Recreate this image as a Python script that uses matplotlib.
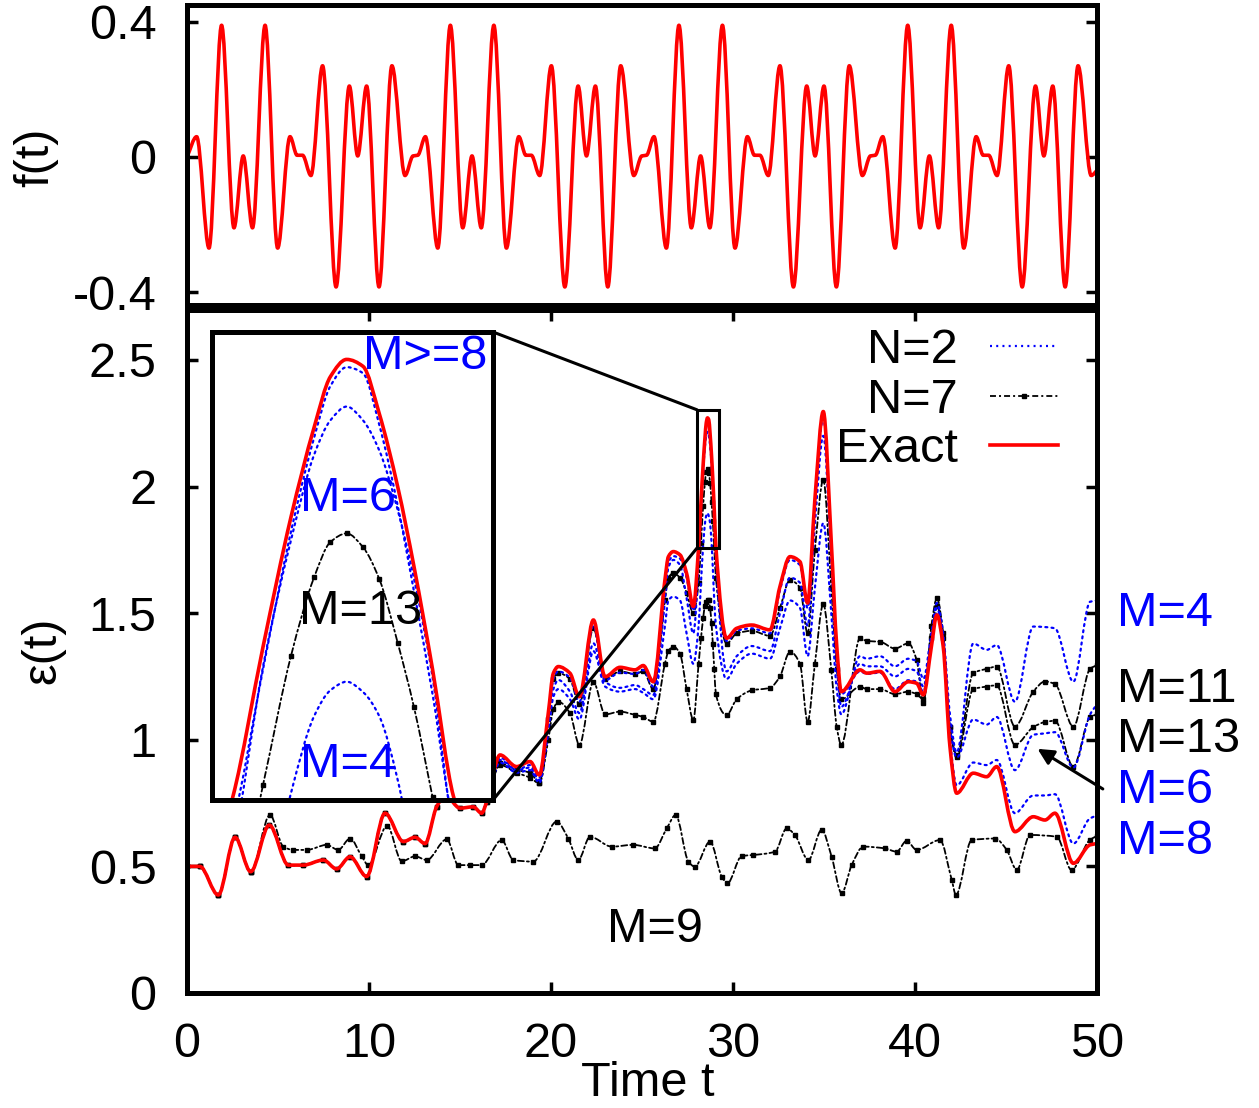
import numpy as np
import matplotlib.pyplot as plt
from matplotlib.patches import Rectangle, ConnectionPatch, PathPatch
from matplotlib.path import Path
from matplotlib.lines import Line2D

plt.rcParams['font.family'] = ['Liberation Sans', 'DejaVu Sans']

# ---- top panel: driving field f(t), extrema ----
ft_t = [0.00, 0.53, 1.21, 1.90, 2.58, 3.09, 3.60, 4.29, 4.98, 5.66, 6.05, 6.35, 6.81, 7.45, 8.19, 8.92,
        9.38, 9.87, 10.55, 11.26, 11.98, 12.42, 12.68,
        13.10, 13.78, 14.47, 15.15, 15.66, 16.17, 16.86, 17.55, 18.23, 18.62, 18.92, 19.38, 20.02, 20.76,
        21.49, 21.95, 22.44, 23.12, 23.83, 24.55, 24.99, 25.25,
        25.66, 26.34, 27.03, 27.71, 28.22, 28.73, 29.42, 30.11, 30.79, 31.18, 31.48, 31.94, 32.58, 33.32,
        34.05, 34.51, 35.00, 35.68, 36.39, 37.11, 37.55, 37.82,
        38.23, 38.91, 39.60, 40.28, 40.79, 41.30, 41.99, 42.68, 43.36, 43.75, 44.05, 44.51, 45.15, 45.89,
        46.62, 47.08, 47.57, 48.25, 48.96, 49.68, 50.00]
ft_v = [0.0, 0.06, -0.27, 0.39, -0.21, 0.003, -0.21, 0.39, -0.27, 0.06, 0.005, 0.005, -0.055, 0.27, -0.385, 0.21,
        0.003, 0.21, -0.385, 0.27, -0.055, 0.003, 0.005,
        0.06, -0.27, 0.39, -0.21, 0.003, -0.21, 0.39, -0.27, 0.06, 0.005, 0.005, -0.055, 0.27, -0.385,
        0.21, 0.003, 0.21, -0.385, 0.27, -0.055, 0.003, 0.005,
        0.06, -0.27, 0.39, -0.21, 0.003, -0.21, 0.39, -0.27, 0.06, 0.005, 0.005, -0.055, 0.27, -0.385,
        0.21, 0.003, 0.21, -0.385, 0.27, -0.055, 0.003, 0.005,
        0.06, -0.27, 0.39, -0.21, 0.003, -0.21, 0.39, -0.27, 0.06, 0.005, 0.005, -0.055, 0.27, -0.385,
        0.21, 0.003, 0.21, -0.385, 0.27, -0.055, -0.04]

# ---- bottom panel: epsilon(t) ----
t_grid = [0.0, 0.7, 1.72, 2.64, 3.5, 4.52, 5.57, 6.39, 7.49, 8.22, 8.96, 9.87, 10.88, 11.89, 12.53, 13.08,
          13.72, 14.2, 15.0, 15.73, 16.19, 16.47,
          17.2, 18.11, 18.85, 19.36, 19.85, 20.13, 20.4, 21.04, 21.56, 22.33, 22.97, 23.79, 24.62, 25.07,
          25.62, 26.26, 26.45, 26.72, 27.09, 27.45, 27.82,
          28.11, 28.24, 28.36, 28.46, 28.53, 28.60, 28.67, 28.74, 28.82, 28.89, 28.97, 29.06,
          29.65, 30.2, 31.03, 32.03, 32.58, 33.13, 33.68, 34.1, 34.5, 34.96, 35.4, 35.7, 35.95,
          36.98, 37.35, 38.08, 38.9, 39.63, 40.09, 40.46, 40.9, 41.2, 41.55, 41.92,
          42.29, 43.2, 43.94, 44.49, 45.49, 46.5, 47.14, 47.69, 48.7, 49.62, 50.0]

# all truncations coincide with the exact curve at early times
eps_early = [0.50, 0.50, 0.387, 0.615, 0.479, 0.663, 0.505, 0.505, 0.525, 0.49, 0.538, 0.46, 0.71, 0.598,
             0.615, 0.59, 0.736, 0.78, 0.73, 0.735, 0.71, 0.756]

eps_exact = eps_early + [
    0.94, 0.894, 0.914, 0.861, 1.105, 1.263, 1.289, 1.263, 1.17, 1.473, 1.249, 1.286, 1.276, 1.293, 1.229,
    1.631, 1.723, 1.743, 1.73, 1.657, 1.526,
    1.761, 1.936, 2.087, 2.192, 2.251, 2.271, 2.263, 2.208, 2.122, 2.029, 1.909, 1.761,
    1.401, 1.44, 1.453, 1.434, 1.605, 1.723, 1.703, 1.54, 1.95, 2.296, 1.78, 1.37, 1.19,
    1.276, 1.263, 1.27, 1.19, 1.229, 1.223, 1.177, 1.368, 1.493, 1.368, 0.973,
    0.789, 0.868, 0.854, 0.894, 0.637, 0.696, 0.683, 0.71, 0.512, 0.585, 0.59]

eps_n2_m8 = eps_early + [
    0.93, 0.88, 0.90, 0.85, 1.09, 1.24, 1.27, 1.245, 1.15, 1.45, 1.235, 1.265, 1.26, 1.275, 1.21,
    1.61, 1.70, 1.725, 1.715, 1.64, 1.51,
    1.73, 1.91, 2.07, 2.18, 2.24, 2.262, 2.255, 2.195, 2.10, 2.00, 1.88, 1.73,
    1.39, 1.43, 1.44, 1.42, 1.59, 1.71, 1.69, 1.52, 1.93, 2.27, 1.76, 1.36, 1.18,
    1.27, 1.26, 1.265, 1.20, 1.235, 1.23, 1.19, 1.38, 1.50, 1.38, 1.00,
    0.82, 0.91, 0.90, 0.92, 0.71, 0.78, 0.78, 0.785, 0.59, 0.69, 0.70]

eps_n2_m6 = eps_early + [
    0.92, 0.88, 0.89, 0.84, 1.05, 1.20, 1.236, 1.19, 1.105, 1.381, 1.229, 1.205, 1.216, 1.20, 1.177,
    1.55, 1.68, 1.71, 1.69, 1.56, 1.42,
    1.70, 1.913, 2.06, 2.16, 2.20, 2.216, 2.20, 2.165, 2.095, 2.015, 1.90, 1.72,
    1.27, 1.33, 1.37, 1.35, 1.50, 1.64, 1.62, 1.45, 1.85, 2.20, 1.70, 1.30, 1.13,
    1.30, 1.29, 1.29, 1.25, 1.28, 1.27, 1.21, 1.40, 1.52, 1.40, 1.05,
    0.93, 1.08, 1.06, 1.09, 0.88, 1.02, 1.025, 1.03, 0.89, 1.10, 1.14]

eps_n2_m4 = eps_early + [
    0.91, 0.87, 0.88, 0.83, 1.03, 1.17, 1.20, 1.16, 1.08, 1.35, 1.21, 1.19, 1.20, 1.185, 1.16,
    1.45, 1.55, 1.565, 1.55, 1.42, 1.30,
    1.45, 1.62, 1.765, 1.855, 1.885, 1.895, 1.883, 1.855, 1.78, 1.68, 1.55, 1.45,
    1.24, 1.30, 1.34, 1.32, 1.44, 1.55, 1.52, 1.33, 1.60, 1.855, 1.50, 1.20, 1.10,
    1.33, 1.32, 1.33, 1.29, 1.32, 1.31, 1.24, 1.42, 1.54, 1.42, 1.10,
    0.95, 1.38, 1.355, 1.374, 1.15, 1.447, 1.445, 1.44, 1.229, 1.545, 1.55]

eps_n7_m13 = eps_early + [
    0.907, 0.88, 0.87, 0.83, 1.08, 1.24, 1.263, 1.24, 1.14, 1.44, 1.24, 1.27, 1.26, 1.27, 1.20,
    1.55, 1.64, 1.657, 1.64, 1.58, 1.50,
    1.62, 1.775, 1.925, 2.017, 2.058, 2.068, 2.052, 2.015, 1.94, 1.865, 1.76, 1.64,
    1.38, 1.42, 1.43, 1.41, 1.52, 1.63, 1.60, 1.42, 1.75, 2.026, 1.60, 1.28, 1.16,
    1.21, 1.20, 1.20, 1.18, 1.19, 1.18, 1.16, 1.40, 1.53, 1.40, 1.05,
    0.93, 1.20, 1.21, 1.215, 0.98, 1.05, 1.07, 1.075, 0.894, 1.09, 1.10]

eps_n7_m11 = eps_early + [
    0.90, 0.87, 0.85, 0.828, 1.00, 1.12, 1.15, 1.105, 0.98, 1.229, 1.10, 1.111, 1.098, 1.09, 1.071,
    1.30, 1.35, 1.368, 1.34, 1.20, 1.078,
    1.30, 1.40, 1.48, 1.53, 1.545, 1.552, 1.55, 1.52, 1.46, 1.38, 1.28, 1.18,
    1.098, 1.16, 1.195, 1.205, 1.25, 1.348, 1.30, 1.071, 1.30, 1.535, 1.276, 1.05, 0.98,
    1.401, 1.39, 1.387, 1.36, 1.381, 1.315, 1.144, 1.45, 1.559, 1.42, 1.05,
    0.94, 1.263, 1.28, 1.289, 1.052, 1.19, 1.23, 1.22, 1.052, 1.28, 1.295]

t_m9 = [0, 0.7, 1.72, 2.64, 3.5, 4.56, 5.29, 5.84, 6.58, 7.68, 8.31, 8.96, 9.6, 9.96, 11.0, 11.8, 12.53,
        13.17, 14.27, 14.91, 15.55, 16.19, 17.29, 17.93, 19.03, 20.31, 20.95, 21.5, 22.14, 23.34, 24.52,
        25.7, 26.36, 26.85, 27.55, 27.9, 28.74, 29.38, 29.69, 30.48, 31.12, 32.31, 32.95, 33.4, 34.14,
        34.87, 35.42, 35.97, 36.52, 37.16, 38.35, 38.99, 39.54, 40.09, 41.37, 42.02, 42.25, 43.11, 44.4,
        45.04, 45.59, 46.32, 47.79, 48.6, 49.6, 50.0]
eps_n7_m9 = [0.50, 0.50, 0.387, 0.615, 0.479, 0.703, 0.578, 0.565, 0.565, 0.585, 0.565, 0.61, 0.54, 0.505,
             0.66, 0.52, 0.54, 0.525, 0.607, 0.505, 0.505, 0.505, 0.604, 0.525, 0.519, 0.677, 0.61, 0.525,
             0.617, 0.578, 0.585, 0.571, 0.65, 0.703, 0.519, 0.499, 0.598, 0.46, 0.433, 0.541, 0.545,
             0.558, 0.65, 0.624, 0.525, 0.644, 0.538, 0.394, 0.505, 0.578, 0.571, 0.558, 0.601, 0.565,
             0.604, 0.446, 0.387, 0.604, 0.61, 0.565, 0.486, 0.624, 0.617, 0.486, 0.604, 0.62]

FS = 35
RED, BLUE = '#ff0000', '#0000ff'
ex_style = dict(color=RED, lw=2.6)
n2_style = dict(color=BLUE, lw=1.6, ls=(0, (0.9, 1.9)))
n7_style = dict(color='black', lw=1.3, ls=(0, (3.3, 1.7, 1.1, 1.7)))
n7_mark = dict(color='black', ls='none', marker='s', ms=3.2)


def smooth_curve(ax, t, v, z, **kw):
    # cubic Bezier path through the read points, monotone (Fritsch-Carlson) tangents
    t = np.asarray(t, float)
    v = np.asarray(v, float)
    h = np.diff(t)
    d = np.diff(v) / h
    m = np.zeros_like(v)
    m[0], m[-1] = d[0], d[-1]
    for k in range(1, len(v) - 1):
        if d[k - 1] * d[k] > 0:
            w1, w2 = 2 * h[k] + h[k - 1], h[k] + 2 * h[k - 1]
            m[k] = (w1 + w2) / (w1 / d[k - 1] + w2 / d[k])
    verts = [(t[0], v[0])]
    codes = [Path.MOVETO]
    for k in range(len(h)):
        verts += [(t[k] + h[k] / 3, v[k] + m[k] * h[k] / 3),
                  (t[k + 1] - h[k] / 3, v[k + 1] - m[k + 1] * h[k] / 3),
                  (t[k + 1], v[k + 1])]
        codes += [Path.CURVE4] * 3
    patch = PathPatch(Path(verts, codes), fill=False, ec=kw['color'], lw=kw['lw'], ls=kw.get('ls', '-'),
                      capstyle='round', joinstyle='round', zorder=z)
    ax.add_patch(patch)


def draw_eps(ax):
    smooth_curve(ax, t_m9, eps_n7_m9, 2.0, **n7_style)
    smooth_curve(ax, t_grid, eps_n7_m11, 2.1, **n7_style)
    smooth_curve(ax, t_grid, eps_n7_m13, 2.2, **n7_style)
    for tt, vv in ((t_m9, eps_n7_m9), (t_grid, eps_n7_m11), (t_grid, eps_n7_m13)):
        ax.plot(tt, vv, zorder=2.3, **n7_mark)
    smooth_curve(ax, t_grid, eps_n2_m4, 2.4, **n2_style)
    smooth_curve(ax, t_grid, eps_n2_m6, 2.5, **n2_style)
    smooth_curve(ax, t_grid, eps_n2_m8, 2.6, **n2_style)
    smooth_curve(ax, t_grid, eps_exact, 2.7, **ex_style)


W, H = 1259, 1108
fig = plt.figure(figsize=(W / 100, H / 100), dpi=100)
ax1 = fig.add_axes([187 / W, 1 - 305 / H, 910 / W, 300 / H])
ax2 = fig.add_axes([187 / W, 1 - 993 / H, 910 / W, 683 / H])

for ax in (ax1, ax2):
    for s in ax.spines.values():
        s.set_linewidth(3.6)
        s.set_zorder(5)

# top panel
smooth_curve(ax1, ft_t, ft_v, 2.0, **ex_style)
ax1.set_xlim(0, 50)
ax1.set_ylim(-0.4385, 0.45)
ax1.set_xticks([])
ax1.set_yticks([-0.4, 0, 0.4])
ax1.set_yticklabels(['-0.4', '0', '0.4'])
ax1.tick_params(axis='y', direction='in', length=8, width=2.5, left=True, right=True,
                labelsize=FS, pad=22)
ax1.set_ylabel('f(t)', fontsize=FS)
ax1.yaxis.set_label_coords(-0.1418, 0.493)

# bottom panel
draw_eps(ax2)
ax2.set_xlim(0, 50)
ax2.set_ylim(0, 2.697)
ax2.set_xticks([0, 10, 20, 30, 40, 50])
ax2.set_yticks([0, 0.5, 1, 1.5, 2, 2.5])
ax2.set_yticklabels(['0', '0.5', '1', '1.5', '2', '2.5'])
ax2.tick_params(direction='in', length=8, width=2.5, left=True, right=True, top=True, bottom=True,
                labelsize=FS)
ax2.tick_params(axis='y', pad=22)
ax2.tick_params(axis='x', pad=21)
ax2.set_ylabel('ε(t)', fontsize=FS)
ax2.yaxis.set_label_coords(-0.134, 0.502)
ax2.set_xlabel('Time t', fontsize=FS)
ax2.xaxis.set_label_coords(0.5066, -0.100)

handles = [Line2D([], [], color=BLUE, lw=1.6, dashes=(0.9, 1.9)),
           Line2D([], [], color='black', lw=1.3, dashes=(3.3, 1.7, 1.1, 1.7), marker='s', ms=3.2),
           Line2D([], [], color=RED, lw=2.6)]
ax2.legend(handles, ['N=2', 'N=7', 'Exact'], loc='upper right', bbox_to_anchor=(0.957, 0.974),
           markerfirst=False, frameon=False, fontsize=FS, handlelength=1.4, handletextpad=0.66,
           labelspacing=0.1, borderaxespad=0, borderpad=0, numpoints=1)

# zoom box and inset
x0, x1, y0, y1 = 28.02, 29.23, 1.757, 2.303
ax2.add_patch(Rectangle((x0, y0), x1 - x0, y1 - y0, fill=False, ec='black', lw=2.2, zorder=5))

axin = fig.add_axes([212 / W, 1 - 800 / H, 281 / W, 468 / H])
draw_eps(axin)
axin.set_xlim(x0, x1)
axin.set_ylim(y0, y1)
axin.set_xticks([])
axin.set_yticks([])
for s in axin.spines.values():
    s.set_linewidth(3.6)
    s.set_zorder(5)
axin.text(0.758, 0.947, 'M>=8', color=BLUE, fontsize=FS, ha='center', va='center',
          transform=axin.transAxes, zorder=6)
axin.text(0.484, 0.645, 'M=6', color=BLUE, fontsize=FS, ha='center', va='center',
          transform=axin.transAxes, zorder=6)
axin.text(0.527, 0.402, 'M=13', color='black', fontsize=FS, ha='center', va='center',
          transform=axin.transAxes, zorder=6)
axin.text(0.484, 0.075, 'M=4', color=BLUE, fontsize=FS, ha='center', va='center',
          transform=axin.transAxes, zorder=6)

for ya, yb in ((1, y1), (0, y0)):
    con = ConnectionPatch(xyA=(1, ya), coordsA=axin.transAxes, xyB=(x0, yb), coordsB=ax2.transData,
                          color='black', lw=2.2)
    fig.add_artist(con)

# curve labels on the right
right_labels = [('M=4', 1.50, BLUE), ('M=11', 1.197, 'black'), ('M=13', 1.0, 'black'),
                ('M=6', 0.80, BLUE), ('M=8', 0.60, BLUE)]
for txt, yy, col in right_labels:
    ax2.text(51.1, yy, txt, color=col, fontsize=FS, ha='left', va='center', clip_on=False)

ax2.annotate('', xy=(46.6, 0.97), xytext=(50.45, 0.80), annotation_clip=False,
             arrowprops=dict(arrowstyle='-|>', color='black', lw=2.2, mutation_scale=24))
ax2.text(25.7, 0.249, 'M=9', fontsize=FS, ha='center', va='center')

fig.savefig('out.png', dpi=100)
